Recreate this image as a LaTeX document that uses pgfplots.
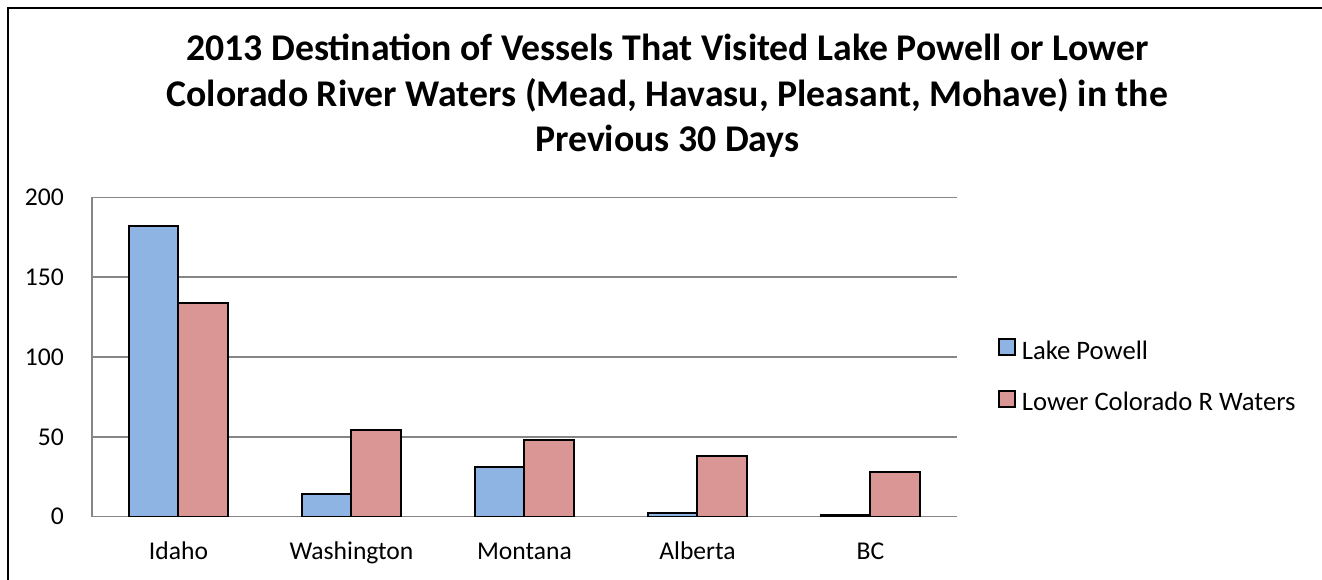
\documentclass[border=0pt]{standalone}
\usepackage{fontspec}
\setmainfont{Carlito}
\usepackage{pgfplots}
\pgfplotsset{compat=1.18}
\definecolor{powellblue}{HTML}{8EB4E3}
\definecolor{coloradored}{HTML}{D99694}
\definecolor{gridgrey}{HTML}{868686}

\begin{document}
\begin{tikzpicture}
\useasboundingbox (0,0) rectangle (991.5pt,435pt);
% frame (left and top only, as in the source)
\draw[line width=1.6pt] (6pt,0) -- (6pt,429pt) -- (991.5pt,429pt);
\node[font=\fontsize{28.3}{34.2}\selectfont\bfseries, align=center] at (500.5pt,363pt)
  {2013 Destination of Vessels That Visited Lake Powell or Lower\\
   Colorado River Waters (Mead, Havasu, Pleasant, Mohave) in the\\
   Previous 30 Days};
\begin{axis}[
    at={(69pt,47.5pt)}, anchor=south west,
    scale only axis, width=648.75pt, height=239.5pt,
    ybar=0pt, bar width=37.3pt,
    xmin=-0.5, xmax=4.5, ymin=0, ymax=200,
    xtick=data,
    xticklabels={Idaho, Washington, Montana, Alberta, BC},
    ytick={0,50,100,150,200},
    major tick length=0pt,
    axis x line*=bottom, axis y line*=left,
    axis line style={gridgrey, line width=1pt, -},
    ymajorgrids,
    grid style={gridgrey, line width=1.1pt},
    /pgf/number format/assume math mode=true,
    tick label style={font=\fontsize{19.2}{22}\selectfont},
    xticklabel style={inner sep=0pt, anchor=north, text height=13pt, text depth=4pt, yshift=-18.6pt},
    yticklabel style={inner sep=0pt, anchor=east, xshift=-21pt},
    legend style={at={(1.047,0.437)}, anchor=west, draw=none, fill=none,
        inner sep=0pt, font=\fontsize{20}{23}\selectfont,
        nodes={inner sep=0pt, text height=13pt, text depth=4pt},
        row sep=19pt, column sep=4.5pt},
    legend cell align=left,
    legend image code/.code={\draw[#1] (0pt,-1.5pt) rectangle (12pt,10.5pt);},
]
\addplot[fill=powellblue, draw=black, line width=1.5pt] coordinates {
    (0,182) (1,14) (2,31) (3,2) (4,1)
};
\addplot[fill=coloradored, draw=black, line width=1.5pt] coordinates {
    (0,134) (1,54) (2,48) (3,38) (4,28)
};
\legend{Lake Powell, Lower Colorado R Waters}
\end{axis}
\end{tikzpicture}
\end{document}
